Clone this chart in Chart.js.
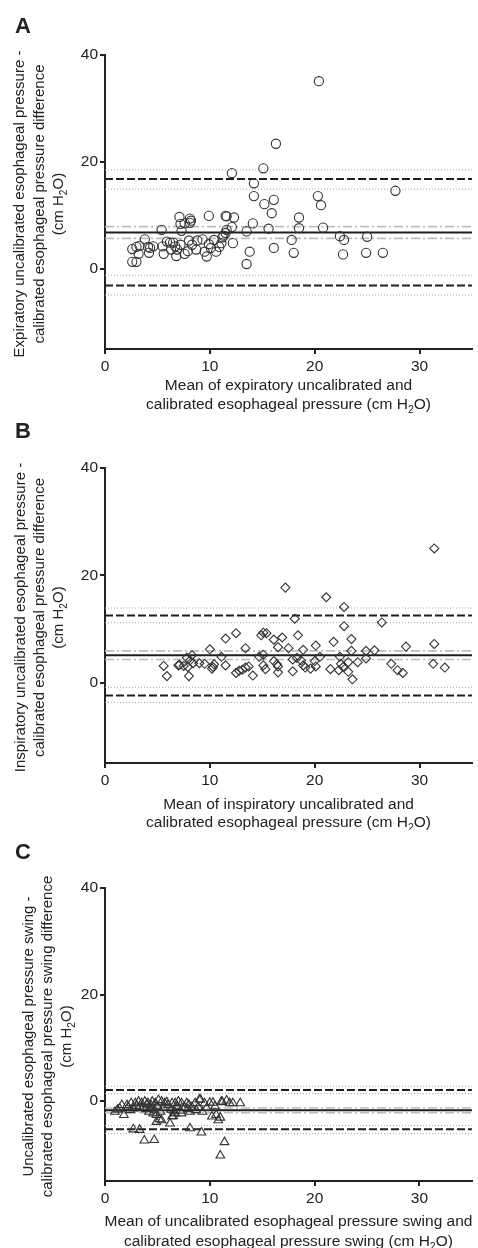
<!DOCTYPE html>
<html><head><meta charset="utf-8">
<script src="https://cdn.jsdelivr.net/npm/chart.js@4/dist/chart.umd.min.js"></script>
<style>
html,body{margin:0;padding:0;background:#fff;}
#wrap{position:relative;width:478px;height:1248px;overflow:hidden;}
canvas{position:absolute;left:0;}
</style></head><body><div id="wrap">
<canvas id="cA" width="478" height="415" style="top:0px"></canvas>
<canvas id="cB" width="478" height="415" style="top:415px"></canvas>
<canvas id="cC" width="478" height="418" style="top:830px"></canvas>
</div>
<script>
// ---------- shared axes ----------
const xTicks = [0, 10, 20, 30];
const yTicks = [0, 20, 40];
const xRange = [0, 35];
const yRange = [-15, 40];

// ---------- Panel A: expiratory ----------
const expMeanX = [16.3,15.1,12.1,14.2,14.2,15.2,16.1,15.9,15.6,14.1,13.5,16.1,13.8,13.5,12.2,12.1,11.5,11.6,12.3,9.9,7.1,8.1,8.2,8.1,7.2,7.6,5.4,7.3,11.6,11.5,11.3,11.2,11.1,
  3.8,2.6,3.0,3.3,4.1,4.3,4.6,3.2,4.2,2.6,3.0,5.5,5.6,6.2,6.5,6.7,6.8,6.9,7.2,7.6,8.0,8.3,8.7,8.8,9.3,9.7,9.9,10.1,10.4,10.6,5.9,6.3,7.9,9.5,10.9,
  20.4,27.7,20.3,20.6,18.5,18.5,20.8,17.8,18.0,22.4,22.8,22.7,25.0,24.9,26.5];
const expDiffY = [23.4,18.8,17.9,16.0,13.6,12.1,12.9,10.4,7.5,8.5,7.0,3.9,3.2,0.9,4.8,7.8,9.9,9.8,9.6,9.9,9.7,9.4,9.0,8.6,8.4,8.5,7.3,7.1,7.3,6.7,6.2,5.9,4.8,
  5.5,3.7,4.1,4.3,4.1,3.9,4.2,2.8,3.0,1.3,1.3,4.2,2.8,4.9,4.9,4.2,2.4,3.6,4.5,2.8,5.3,4.5,3.6,5.3,5.5,2.3,4.6,3.9,5.4,3.2,5.1,3.6,3.3,3.2,4.1,
  35.1,14.6,13.6,11.9,9.6,7.6,7.7,5.4,3.0,6.1,5.4,2.7,6.0,3.0,3.0];
const expBias = [6.8];
const expBiasCI = [7.9, 5.7];
const expLoA = [16.8, -3.1];
const expLoACI = [18.5, 14.9, -1.2, -4.9];

// ---------- Panel B: inspiratory ----------
const insMeanX = [17.2,21.1,22.8,31.4,12.5,11.5,10.0,13.4,15.1,15.4,14.9,16.1,16.9,16.5,17.5,14.7,15.1,16.1,16.4,16.5,15.1,15.3,14.1,13.7,13.4,13.1,12.8,12.5,11.5,11.1,10.4,10.3,10.2,9.5,9.0,8.3,7.8,8.1,8.4,7.9,7.5,7.1,8.0,5.6,5.9,7.0,
  18.1,22.8,26.4,18.4,18.9,20.1,21.8,23.5,23.5,24.9,25.7,28.7,31.4,17.9,18.3,18.7,18.9,19.1,17.9,19.6,20.0,20.1,20.5,21.5,22.4,22.5,22.7,22.3,23.2,23.6,23.2,24.1,24.9,27.3,27.9,28.4,31.3,32.4,16.5];
const insDiffY = [17.7,15.9,14.1,25.0,9.2,8.2,6.2,6.4,9.3,9.2,8.8,8.0,8.4,6.6,6.4,4.8,5.2,4.0,3.4,1.9,3.2,2.5,1.3,3.0,2.8,2.4,2.2,1.8,3.2,4.8,3.4,2.9,2.6,3.5,3.6,5.1,4.6,4.1,3.6,2.9,3.1,3.3,1.2,3.1,1.2,3.2,
  11.9,10.5,11.2,8.8,6.1,6.9,7.6,8.1,5.9,5.9,6.0,6.7,7.2,4.3,4.6,4.1,3.2,2.8,2.1,2.6,4.0,3.0,4.8,2.5,4.8,3.5,2.9,2.3,2.0,0.6,3.8,3.8,4.5,3.5,2.3,1.8,3.5,2.8,3.0];
const insBias = [5.1];
const insBiasCI = [5.9, 4.3];
const insLoA = [12.5, -2.4];
const insLoACI = [13.9, 11.15, -0.9, -3.7];

// ---------- Panel C: swing ----------
const swgMeanX = [2.7,3.3,3.75,4.7,8.1,9.2,11.4,11.0,1.8,0.95,6.2,5.2,4.9,5.4,6.5,6.7,7.3,10.2,10.6,10.8,11.0,9.0,10.0,10.3,11.2,12.2,12.9,11.6,
  1.4,1.6,2.1,2.5,2.9,3.2,3.5,3.8,4.1,4.5,4.8,5.1,5.4,5.7,6.0,6.4,6.7,7.0,7.3,7.8,8.3,8.6,9.1,9.5,
  4.6,4.9,6.4,7.2,8.1,8.7,9.3,4.2,4.3,3.3,3.9,2.7,2.4,11.1,11.9,3.0,3.6,4.4,5.0,5.6,5.9,6.3,6.9,7.6,8.0,8.9,9.7,2.2,4.0,4.7,5.3,6.6,7.9,10.5,1.2];
const swgDiffY = [-5.3,-5.4,-7.4,-7.3,-5.1,-5.9,-7.7,-10.2,-2.6,-2.0,-4.2,-3.4,-3.9,-3.6,-2.8,-2.3,-2.3,-2.9,-2.6,-3.6,-3.1,0.3,-0.3,-0.3,-0.2,-0.4,-0.4,0.1,
  -1.4,-0.75,-0.75,-0.4,-0.4,-0.1,-0.4,-0.1,-0.4,-0.1,-0.4,0.2,-0.1,-0.4,-0.75,-0.4,-0.4,-0.1,-0.4,-0.4,-1.1,-0.4,0.3,-0.4,
  -2.3,-2.6,-2.9,-1.8,-2.0,-1.7,-2.0,-2.0,-1.4,-1.1,-1.5,-1.4,-1.7,-0.1,-0.4,-0.9,-1.2,-0.8,-1.0,-1.3,-0.2,-1.6,-1.0,-1.2,-0.7,-1.1,-1.3,-1.1,-0.6,-1.6,-2.0,-1.9,-1.5,-1.0,-1.6];
const swgBias = [-1.7];
const swgBiasCI = [-1.3, -2.2];
const swgLoA = [2.1, -5.3];
const swgLoACI = [2.8, 1.4, -4.6, -6.1];

// ---------- titles ----------
const titlesA = {
  letter: 'A',
  y: ['Expiratory uncalibrated esophageal pressure -', 'calibrated esophageal pressure difference', '(cm H₂O)'],
  x: ['Mean of expiratory uncalibrated and', 'calibrated esophageal pressure (cm H₂O)']
};
const titlesB = {
  letter: 'B',
  y: ['Inspiratory uncalibrated esophageal pressure -', 'calibrated esophageal pressure difference', '(cm H₂O)'],
  x: ['Mean of inspiratory uncalibrated and', 'calibrated esophageal pressure (cm H₂O)']
};
const titlesC = {
  letter: 'C',
  y: ['Uncalibrated esophageal pressure swing -', 'calibrated esophageal pressure swing difference', '(cm H₂O)'],
  x: ['Mean of uncalibrated esophageal pressure swing and', 'calibrated esophageal pressure swing (cm H₂O)']
};

const FONT = "'Liberation Sans', Arial, Helvetica, sans-serif";
const INK = '#222';

function drawRich(ctx, str, cx, cy, size, weight) {
  const parts = str.split('₂');
  const main = (weight || 'normal') + ' ' + size + 'px ' + FONT;
  const sub = (weight || 'normal') + ' ' + (size * 0.68) + 'px ' + FONT;
  let total = 0;
  parts.forEach((p, i) => {
    ctx.font = main; total += ctx.measureText(p).width;
    if (i < parts.length - 1) { ctx.font = sub; total += ctx.measureText('2').width; }
  });
  let x = cx - total / 2;
  ctx.textBaseline = 'middle';
  ctx.textAlign = 'left';
  parts.forEach((p, i) => {
    ctx.font = main; ctx.fillText(p, x, cy); x += ctx.measureText(p).width;
    if (i < parts.length - 1) {
      ctx.font = sub; ctx.fillText('2', x, cy + size * 0.32); x += ctx.measureText('2').width;
    }
  });
}

function textPlugin(t, lay) {
  return {
    id: 'panelText' + t.letter,
    afterDraw(chart) {
      const ctx = chart.ctx;
      const area = chart.chartArea;
      ctx.save();
      ctx.fillStyle = INK;
      // panel letter
      ctx.font = 'bold 22px ' + FONT;
      ctx.textAlign = 'left'; ctx.textBaseline = 'middle';
      ctx.fillText(t.letter, 15, lay.letterY);
      // y title, centred on the plot area
      const cy = (area.top + area.bottom) / 2 + 2;
      t.y.forEach((line, i) => {
        ctx.save();
        ctx.translate(lay.yTitleX[i], cy);
        ctx.rotate(-Math.PI / 2);
        drawRich(ctx, line, 0, 0, 15);
        ctx.restore();
      });
      // x title
      const cx = (area.left + area.right) / 2;
      t.x.forEach((line, i) => {
        drawRich(ctx, line, cx, area.bottom + lay.xTitleOff[i], 15.5);
      });
      ctx.restore();
    }
  };
}

function hline(v, kind) {
  const styles = {
    bias: { c: '#1e1e1e', w: 2, d: [] },
    loa: { c: '#1e1e1e', w: 2, d: [8, 3] },
    loaci: { c: '#a8a8a8', w: 1, d: [1, 2] },
    biasci: { c: '#bdbdbd', w: 1.6, d: [9, 3, 2, 3] }
  };
  const s = styles[kind];
  return {
    data: [{ x: xRange[0], y: v }, { x: xRange[1], y: v }],
    showLine: true, borderColor: s.c, borderWidth: s.w, borderDash: s.d,
    pointRadius: 0, fill: false, order: 2
  };
}

function makePanel(id, xs, ys, bias, biasCI, loa, loaCI, ptStyle, ptRadius, titles, lay) {
  const canvas = document.getElementById(id);
  const pts = xs.map((x, i) => ({ x: x, y: ys[i] }));
  const datasets = [];
  loaCI.forEach(v => datasets.push(hline(v, 'loaci')));
  biasCI.forEach(v => datasets.push(hline(v, 'biasci')));
  loa.forEach(v => datasets.push(hline(v, 'loa')));
  bias.forEach(v => datasets.push(hline(v, 'bias')));
  datasets.push({
    data: pts, pointStyle: ptStyle, pointRadius: ptRadius,
    pointBorderColor: '#333', pointBackgroundColor: 'rgba(0,0,0,0)', pointBorderWidth: 1.1,
    showLine: false, order: 1
  });
  const tickFont = { family: FONT, size: 15.5 };
  return new Chart(canvas, {
    type: 'scatter',
    data: { datasets },
    options: {
      responsive: false, animation: false, events: [],
      layout: { padding: { top: lay.areaTop, left: 0, right: 6, bottom: 0 } },
      plugins: { legend: { display: false }, tooltip: { enabled: false } },
      scales: {
        x: {
          type: 'linear', min: xRange[0], max: xRange[1],
          afterBuildTicks: s => { s.ticks = xTicks.map(v => ({ value: v })); },
          afterFit: s => { s.height = canvas.height - lay.areaBottom; },
          ticks: { color: INK, font: tickFont, padding: 3, maxRotation: 0, autoSkip: false, callback: v => String(v) },
          grid: { drawOnChartArea: false, drawTicks: true, tickLength: 5, color: INK, lineWidth: 2 },
          border: { display: true, color: INK, width: 2 }
        },
        y: {
          type: 'linear', min: yRange[0], max: yRange[1],
          afterBuildTicks: s => { s.ticks = yTicks.map(v => ({ value: v })); },
          afterFit: s => { s.width = 105; },
          ticks: { color: INK, font: tickFont, padding: 2, autoSkip: false, callback: v => String(v) },
          grid: { drawOnChartArea: false, drawTicks: true, tickLength: 5, color: INK, lineWidth: 2 },
          border: { display: true, color: INK, width: 2 }
        }
      }
    },
    plugins: [textPlugin(titles, lay)]
  });
}

makePanel('cA', expMeanX, expDiffY, expBias, expBiasCI, expLoA, expLoACI, 'circle', 4.6, titlesA,
  { areaTop: 55, areaBottom: 349, letterY: 27, yTitleX: [20, 40, 59], xTitleOff: [37, 56] });
makePanel('cB', insMeanX, insDiffY, insBias, insBiasCI, insLoA, insLoACI, 'rectRot', 4.5, titlesB,
  { areaTop: 53, areaBottom: 348, letterY: 17, yTitleX: [21, 40, 59], xTitleOff: [42, 60] });
makePanel('cC', swgMeanX, swgDiffY, swgBias, swgBiasCI, swgLoA, swgLoACI, 'triangle', 5, titlesC,
  { areaTop: 58, areaBottom: 351, letterY: 23, yTitleX: [29, 48, 67], xTitleOff: [41, 61] });
</script>
</body></html>
